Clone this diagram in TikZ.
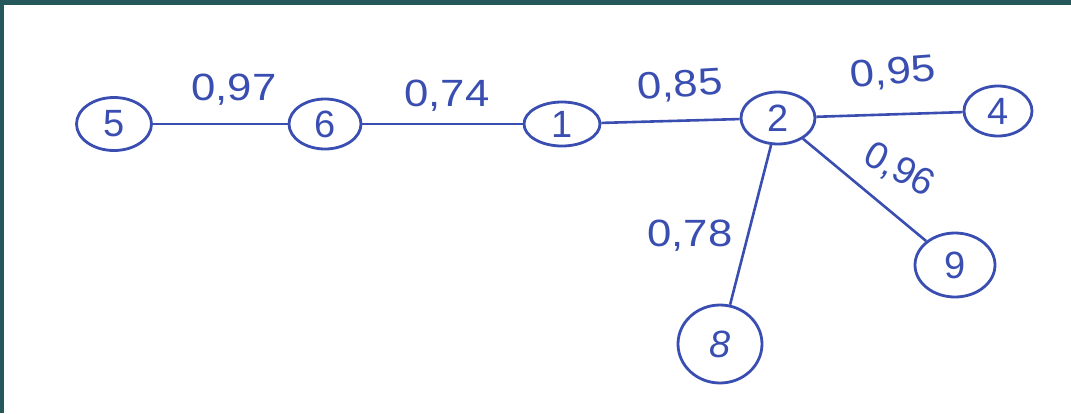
\documentclass[tikz,border=0pt]{standalone}
\usepackage{fontspec}
\setmainfont{Liberation Sans}
\usetikzlibrary{shapes.geometric}
\definecolor{ink}{RGB}{58,78,178}
\definecolor{frame}{RGB}{36,88,90}
\begin{document}
\begin{tikzpicture}[x=1pt,y=-1pt,
  vert/.style={ellipse,draw=ink,line width=2.8pt,text=ink,inner sep=0pt,
    font=\fontsize{38}{42}\selectfont},
  edge/.style={draw=ink,line width=2.6pt},
  wfont/.style={text=ink,font=\fontsize{38}{42}\selectfont},
  wlabel/.style={wfont,xscale=1.15}]
\useasboundingbox (0,0) rectangle (1071,413);
\fill[white] (0,0) rectangle (1071,413);
\fill[frame] (0,0) rectangle (1071,5);
\fill[frame] (0,0) rectangle (4,413);
% vertices
\node[vert,minimum width=75,minimum height=53] (n5) at (114,124) {5};
\node[vert,minimum width=72,minimum height=50] (n6) at (325,124) {6};
\node[vert,minimum width=76,minimum height=44] (n1) at (562,124) {1};
\node[vert,minimum width=74,minimum height=52] (n2) at (778,118) {2};
\node[vert,minimum width=68,minimum height=50] (n4) at (998,111) {4};
\node[vert,minimum width=80,minimum height=64] (n9) at (955,265) {9};
\node[vert,minimum width=84,minimum height=78] (n8) at (720,344) {\itshape 8};
% edges
\draw[edge] (n5) -- (n6);
\draw[edge] (n6) -- (n1);
\draw[edge] (n1) -- (n2);
\draw[edge] (n2) -- (n4);
\draw[edge] (n2) -- (n9);
\draw[edge] (n2) -- (n8);
% weights
\node[wlabel] (w56) at (234,90) {0,97};
\node[wlabel] (w61) at (447,96) {0,74};
\node[wlabel,rotate=4] (w12) at (680,86) {0,85};
\node[wlabel,rotate=5] (w24) at (893,73) {0,95};
\node[wfont,rotate=-28] (w29) at (899,170) {0,96};
\node[wlabel] (w28) at (690,236) {0,78};
\end{tikzpicture}
\end{document}
